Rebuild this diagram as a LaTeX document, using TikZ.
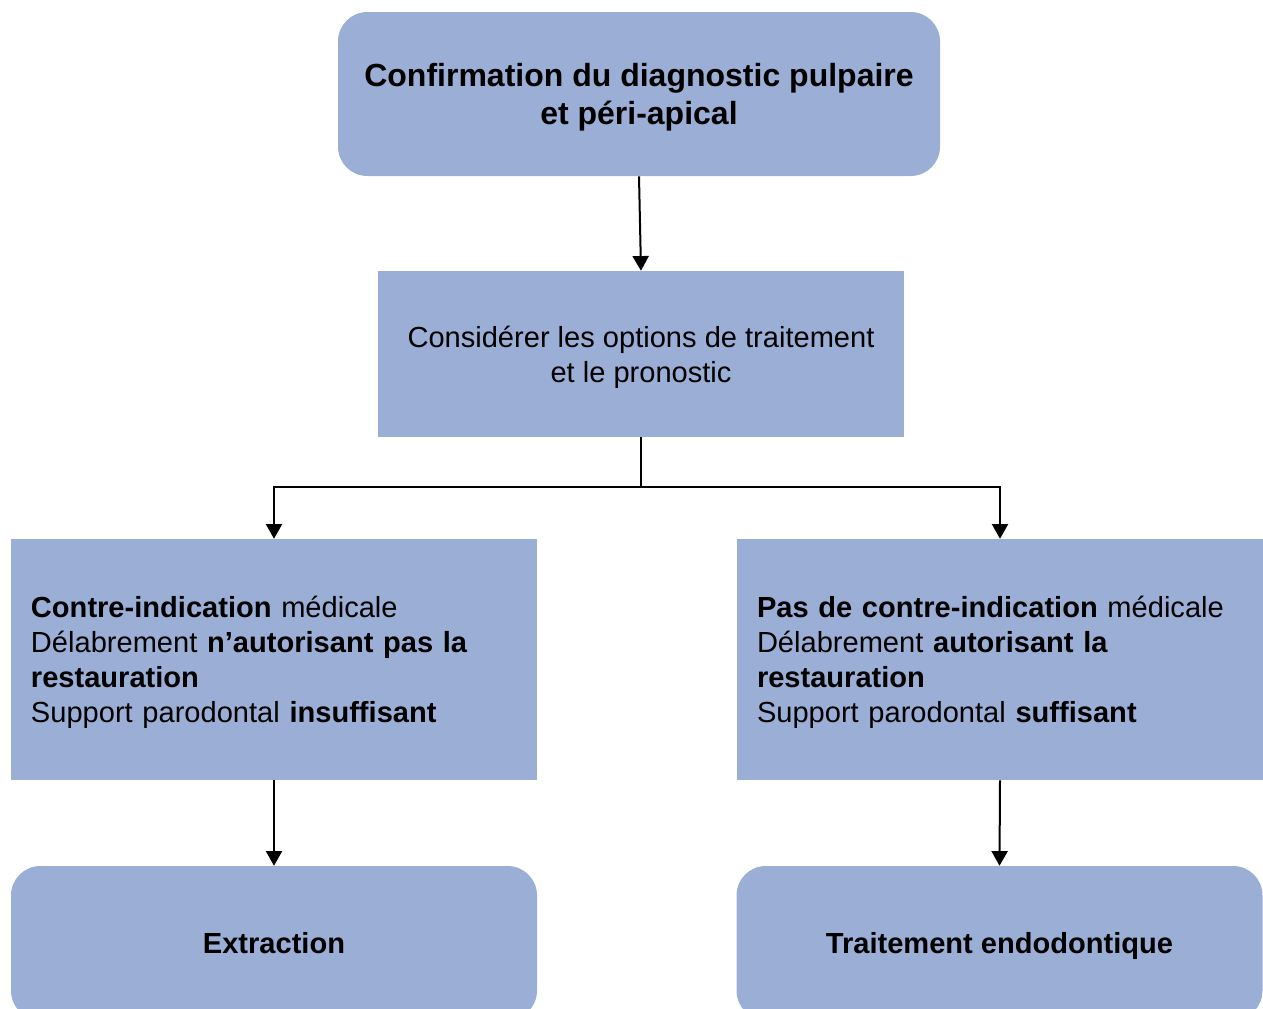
\documentclass[tikz,border=0pt]{standalone}
\usepackage{fontspec}
\setmainfont{Liberation Sans}
\usetikzlibrary{arrows.meta}
\definecolor{boite}{RGB}{155,175,214}
\tikzstyle{etape}=[fill=boite, text centered, inner sep=0pt, text depth=0pt,
  font=\fontsize{21.8}{26.25}\selectfont]
\tikzstyle{etaper}=[etape, rounded corners=22pt]
\tikzstyle{critere}=[etape, align=left, inner xsep=15pt, text width=364.5pt,
  text depth=78.75pt, minimum height=180.75pt]
\tikzstyle{line}=[draw, line width=1.5pt, -{Triangle[width=12pt,length=11pt]}]

\begin{document}
\begin{tikzpicture}[x=0.75pt,y=-0.75pt]
  \useasboundingbox (0,0) rectangle (1263,1008);
  \clip (0,0) rectangle (1263,1008);

  % Draw diagram elements
  \node (p1) [etaper, minimum width=451.5pt, minimum height=123pt,
    font=\fontsize{24}{28.5}\selectfont\bfseries, align=center] at (639,94)
    {Confirmation du diagnostic pulpaire\\et péri-apical};
  \node (p2) [etape, minimum width=394.5pt, minimum height=124.5pt,
    align=center] at (641,354)
    {Considérer les options de traitement\\et le pronostic};
  \node (p3) [critere] at (274,659.5)
    {\textbf{Contre-indication} médicale\\
     Délabrement \textbf{n’autorisant pas la}\\
     \textbf{restauration}\\
     Support parodontal \textbf{insuffisant}};
  \node (p4) [critere] at (1000,659.5)
    {\textbf{Pas de contre-indication} médicale\\
     Délabrement \textbf{autorisant la}\\
     \textbf{restauration}\\
     Support parodontal \textbf{suffisant}};
  \node (p5) [etaper, minimum width=394.5pt, minimum height=115.5pt,
    font=\fontsize{21.8}{26.25}\selectfont\bfseries] at (274,943) {Extraction};
  \node (p6) [etaper, minimum width=394.5pt, minimum height=115.5pt,
    font=\fontsize{21.8}{26.25}\selectfont\bfseries] at (999.5,943)
    {Traitement endodontique};
  \coordinate (fork) at (641,487);

    \path [line] (p1.south) -- (p2.north);
    \path [line] (p2.south) -- (fork) -| (p3.north);
    \path [line] (p2.south) -- (fork) -| (p4.north);
    \path [line] (p3.south) -- (p5.north);
    \path [line] (p4.south) -- (p6.north);
\end{tikzpicture}
\end{document}
